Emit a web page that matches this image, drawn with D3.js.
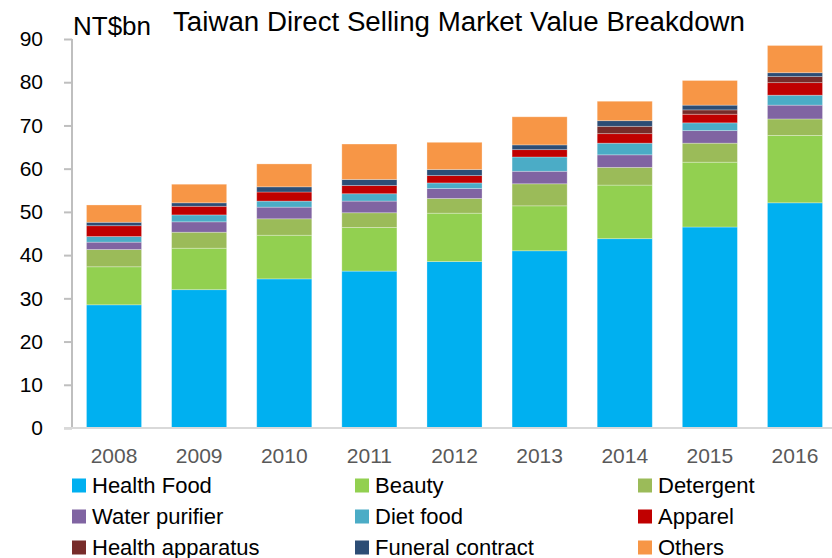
<!DOCTYPE html>
<html>
<head>
<meta charset="utf-8">
<script src="https://cdn.jsdelivr.net/npm/d3@7"></script>
<style>
  body { margin: 0; background: #fff; }
  svg { display: block; font-family: "Liberation Sans", Arial, sans-serif; }
</style>
</head>
<body>
<svg id="chart" width="832" height="558"></svg>
<script>
// years on the x axis
var years = ["2008", "2009", "2010", "2011", "2012", "2013", "2014", "2015", "2016"];

// NT$bn per category
var healthFood      = [28.5, 32.0, 34.5, 36.3, 38.5, 41.0, 43.8, 46.5, 52.1];
var beauty          = [8.8, 9.6, 10.1, 10.1, 11.2, 10.4, 12.4, 15.0, 15.6];
var detergent       = [4.0, 3.7, 3.8, 3.4, 3.4, 5.1, 4.1, 4.4, 3.8];
var waterPurifier   = [1.7, 2.4, 2.7, 2.7, 2.3, 2.9, 2.9, 2.9, 3.2];
var dietFood        = [1.3, 1.6, 1.4, 1.7, 1.3, 3.3, 2.7, 1.8, 2.3];
var apparel         = [2.5, 2.0, 2.1, 1.9, 1.7, 1.7, 2.2, 2.0, 2.9];
var healthApparatus = [0, 0, 0, 0, 0, 0, 1.7, 1.0, 1.4];
var funeralContract = [0.8, 0.8, 1.2, 1.4, 1.4, 1.1, 1.3, 1.1, 0.9];
var others          = [4.0, 4.3, 5.3, 8.2, 6.3, 6.5, 4.5, 5.7, 6.3];

var seriesNames = ["Health Food", "Beauty", "Detergent", "Water purifier", "Diet food",
                   "Apparel", "Health apparatus", "Funeral contract", "Others"];
var seriesValues = [healthFood, beauty, detergent, waterPurifier, dietFood,
                    apparel, healthApparatus, funeralContract, others];
var yTicks = [0, 10, 20, 30, 40, 50, 60, 70, 80, 90];

var colors = ["#00B0F0", "#92D050", "#9BBB59", "#8064A2", "#4BACC6",
              "#C00000", "#772C2A", "#2C4D75", "#F79646"];

// build rows for d3.stack
var rows = years.map(function(y, i) {
    var r = { year: y };
    seriesNames.forEach(function(n, k) { r[n] = seriesValues[k][i]; });
    return r;
});

var svg = d3.select("#chart");

var x = d3.scaleBand()
    .domain(years)
    .range([71.5, 837.5])
    .paddingInner(0.353)
    .paddingOuter(0.176);

var y = d3.scaleLinear()
    .domain([0, 90])
    .range([428, 39]);

var stacked = d3.stack().keys(seriesNames)(rows);

// bars
svg.append("g")
  .selectAll("g")
  .data(stacked)
  .enter().append("g")
    .attr("fill", function(d, i) { return colors[i]; })
  .selectAll("rect")
  .data(function(d) { return d; })
  .enter().append("rect")
    .attr("x", function(d) { return x(d.data.year); })
    .attr("width", x.bandwidth())
    .attr("y", function(d) { return y(d[1]); })
    .attr("height", function(d) { return Math.max(0, y(d[0]) - y(d[1])); })
    .attr("stroke", "#fff")
    .attr("stroke-opacity", 0.35)
    .attr("stroke-width", 0.8);

// y axis
var yAxis = svg.append("g")
    .attr("transform", "translate(72,0)")
    .call(d3.axisLeft(y).tickValues(yTicks).tickSize(8).tickPadding(21));
yAxis.select(".domain").attr("stroke", "#BFBFBF").attr("stroke-width", 2)
    .attr("d", "M0," + y(90) + "V" + y(0));
yAxis.selectAll(".tick line").attr("stroke", "#BFBFBF").attr("stroke-width", 2);
yAxis.selectAll(".tick text")
    .attr("fill", "#000")
    .style("font-size", "21px")
    .style("font-family", "'Liberation Sans', Arial, sans-serif");

// x axis
var xAxis = svg.append("g")
    .attr("transform", "translate(0," + y(0) + ")")
    .call(d3.axisBottom(x).tickSize(0).tickPadding(20));
xAxis.select(".domain").attr("stroke", "#D9D9D9").attr("stroke-width", 2)
    .attr("d", "M64,0H832");
xAxis.selectAll(".tick text")
    .attr("fill", "#595959")
    .style("font-size", "21px")
    .style("font-family", "'Liberation Sans', Arial, sans-serif");

// unit + title
svg.append("text")
    .attr("x", 73).attr("y", 35)
    .style("font-size", "26px")
    .attr("fill", "#000")
    .text("NT$bn");

svg.append("text")
    .attr("x", 173).attr("y", 31)
    .style("font-size", "27px")
    .attr("fill", "#000")
    .attr("textLength", 572)
    .attr("lengthAdjust", "spacingAndGlyphs")
    .text("Taiwan Direct Selling Market Value Breakdown");

// legend, 3 columns
var legendCols = [72, 355, 638];
var legend = svg.append("g")
  .selectAll("g")
  .data(seriesNames)
  .enter().append("g")
    .attr("transform", function(d, i) {
        return "translate(" + legendCols[i % 3] + "," + (485.5 + Math.floor(i / 3) * 31) + ")";
    });
legend.append("rect")
    .attr("x", 0).attr("y", -7)
    .attr("width", 14).attr("height", 14)
    .attr("fill", function(d, i) { return colors[i]; });
legend.append("text")
    .attr("x", 20).attr("dy", "0.36em")
    .style("font-size", "22px")
    .attr("fill", "#000")
    .text(function(d) { return d; });
</script>
</body>
</html>
